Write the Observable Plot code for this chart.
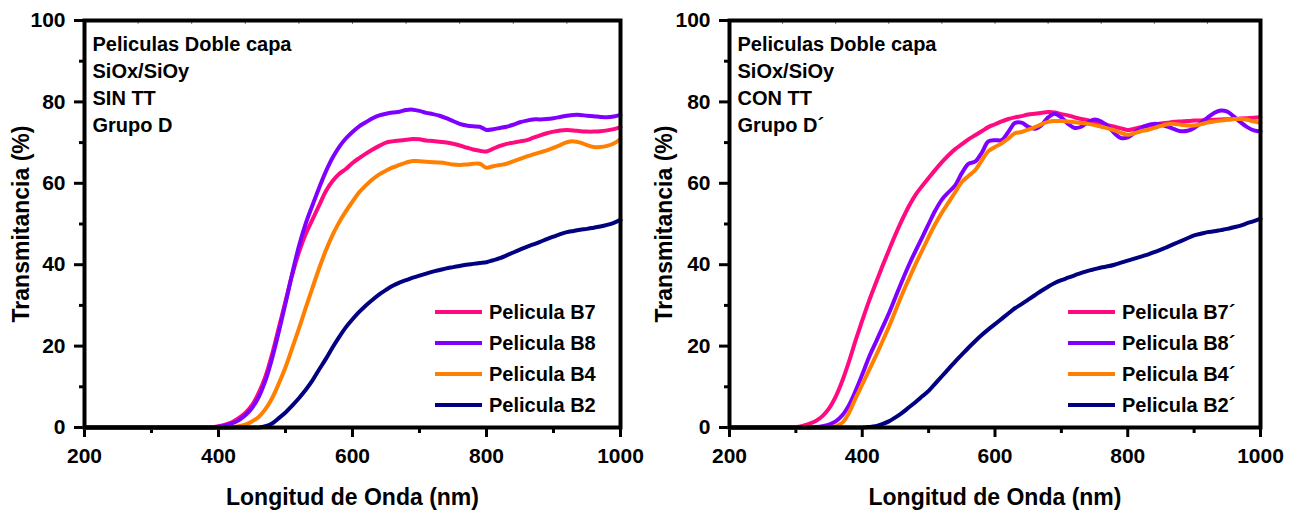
<!DOCTYPE html>
<html>
<head>
<meta charset="utf-8">
<script src="https://cdn.jsdelivr.net/npm/d3@7"></script>
<script src="https://cdn.jsdelivr.net/npm/@observablehq/plot@0.6"></script>
<style>
  html, body { margin: 0; padding: 0; background: #fff; }
  #charts { display: flex; width: 1296px; height: 514px; }
  #charts svg { display: block; }
</style>
</head>
<body>
<div id="charts"></div>
<script>
// Wavelength grid (nm), 200 – 1000 every 10 nm
const wavelengths = d3.range(200, 1001, 10);

// Axis ticks
const xMajor = [200, 400, 600, 800, 1000];
const xMinor = [300, 500, 700, 900];
const yMajor = [0, 20, 40, 60, 80, 100];
const yMinor = [10, 30, 50, 70, 90];
const topTicks = [280, 360, 440, 520, 600, 680, 760, 840, 920];

// Film colours (B7, B8, B4, B2)
const filmColors = ["#ff0a80", "#8000ff", "#ff8000", "#000080"];

// --- Group D (sin tratamiento térmico): transmittance (%) ---
const sinB7 = [0,0,0,0,0,0,0,0,0,0, 0,0,0,0,0,0,0,0,0,0,
  0.3,0.7,1.3,2.3,3.6,5.5,8.5,12.5,18,24.5,
  31,37.5,43,47.5,51,54.5,58,60.5,62.3,63.5,
  65,66.2,67.3,68.3,69.2,70,70.3,70.5,70.7,70.9,
  70.8,70.5,70.4,70.2,70,69.7,69.3,68.8,68.3,68,
  67.8,68.5,69.2,69.7,70,70.3,70.6,71.2,71.8,72.3,
  72.7,73,73.1,73,72.8,72.7,72.7,72.8,73,73.3,
  73.8];
const sinB8 = [0,0,0,0,0,0,0,0,0,0, 0,0,0,0,0,0,0,0,0,0,
  0.2,0.5,1.0,1.8,3.0,4.8,7.5,11.5,17,23.5,
  30.5,37.8,44.5,50,54.5,58.8,62.8,66.2,68.9,71,
  72.6,74,75,76,76.7,77.1,77.4,77.6,78,78.1,
  77.8,77.3,77,76.6,76,75.3,74.6,74.2,74,73.9,
  73.1,73.3,73.6,73.9,74.4,75,75.4,75.7,75.7,75.8,
  76,76.3,76.6,76.8,76.8,76.6,76.5,76.3,76.2,76.4,
  76.8];
const sinB4 = [0,0,0,0,0,0,0,0,0,0, 0,0,0,0,0,0,0,0,0,0,
  0,0,0.1,0.3,0.7,1.5,2.6,4.5,7.2,10.8,
  14.8,19.5,24.3,29.3,34.2,39,43.4,47.2,50.4,53.1,
  55.5,57.8,59.5,61,62.2,63.1,63.9,64.5,65.1,65.5,
  65.4,65.3,65.2,65.1,64.9,64.6,64.5,64.6,64.8,64.8,
  63.8,64.2,64.5,64.8,65.4,66,66.6,67.1,67.6,68.1,
  68.7,69.4,70.1,70.3,70,69.4,68.9,68.9,69.2,69.8,
  70.9];
const sinB2 = [0,0,0,0,0,0,0,0,0,0, 0,0,0,0,0,0,0,0,0,0,
  0,0,0,0,0,0,0,0.3,1.0,2.3,
  3.7,5.4,7.2,9.2,11.5,14.2,16.8,19.6,22.2,24.6,
  26.6,28.4,30,31.4,32.7,33.8,34.8,35.6,36.2,36.8,
  37.3,37.8,38.3,38.7,39.1,39.4,39.7,40,40.2,40.4,
  40.6,41.1,41.6,42.3,43,43.7,44.4,45,45.6,46.3,
  46.9,47.5,48,48.3,48.6,48.8,49.1,49.4,49.8,50.3,
  51];

// --- Group D´ (con tratamiento térmico): transmittance (%) ---
const conB7 = [0,0,0,0,0,0,0,0,0,0,
  0.1,0.4,0.9,1.6,2.8,4.7,7.6,11.5,16.2,21.4,
  26.3,31,35.3,39.5,43.5,47.4,51,54.3,57.1,59.3,
  61.3,63.3,65.2,66.9,68.4,69.6,70.8,71.8,72.8,73.8,
  74.5,75.2,75.8,76.2,76.5,76.9,77.1,77.3,77.5,77.4,
  77,76.7,76.2,75.8,75.5,75,74.7,74.3,73.9,73.5,
  73.1,73.4,73.8,74.1,74.4,74.7,74.9,75.1,75.2,75.3,
  75.4,75.45,75.5,75.6,75.7,75.75,75.8,75.9,76,76.1,
  76.2];
const conB8 = [0,0,0,0,0,0,0,0,0,0, 0,0,0,
  0.1,0.3,0.7,1.5,3,5.5,9,
  13,17.2,20.8,24.4,28,32,36,39.8,43.3,46.6,
  50,53.3,56,57.8,59.5,62.5,64.8,65.3,67.5,70.3,
  70.6,70.6,72.6,74.8,74.9,73.9,73.4,74.3,76.2,77.1,
  76.2,74.6,73.6,73.9,75,75.7,75.2,74,72.3,71.1,
  71.3,72.4,73.6,74.3,74.6,74.4,73.9,73.3,72.8,72.9,
  73.6,74.8,76.1,77.3,77.9,77.6,76.4,75,73.8,73,
  72.7];
const conB4 = [0,0,0,0,0,0,0,0,0,0, 0,0,0,0,0,
  0.1,0.3,1.2,3.6,7.2,
  10.6,14,17.4,21,24.7,28.7,32.7,36.4,40,43.4,
  46.8,50,52.8,55.3,57.8,60.3,61.8,63.2,65.6,67.9,
  68.9,69.8,71,72.3,72.6,73.2,73.8,74.5,75.1,75.3,
  75.3,75.2,75,74.8,74.6,74.3,73.9,73.5,73,72.4,
  71.9,72.3,72.8,73.1,73.6,74.1,74.5,74.6,74.4,74.2,
  74.2,74.5,74.9,75.2,75.4,75.6,75.8,75.8,75.6,75.2,
  74.9];
const conB2 = [0,0,0,0,0,0,0,0,0,0, 0,0,0,0,0,0,0,0,0,0, 0,
  0.1,0.3,0.8,1.5,2.5,3.6,4.9,6.2,7.6,
  9,10.8,12.6,14.4,16.2,17.9,19.6,21.2,22.7,24.1,
  25.4,26.7,28,29.3,30.3,31.4,32.5,33.6,34.6,35.5,
  36.2,36.8,37.4,38,38.5,38.9,39.3,39.6,40,40.5,
  41,41.5,42,42.5,43.1,43.7,44.4,45.1,45.8,46.5,
  47.2,47.6,48,48.2,48.5,48.8,49.2,49.6,50.2,50.7,
  51.3];

// Labels
const sinNames = ["Pelicula B7", "Pelicula B8", "Pelicula B4", "Pelicula B2"];
const conNames = ["Pelicula B7´", "Pelicula B8´", "Pelicula B4´", "Pelicula B2´"];
const sinNotes = ["Peliculas Doble capa", "SiOx/SiOy", "SIN TT", "Grupo D"];
const conNotes = ["Peliculas Doble capa", "SiOx/SiOy", "CON TT", "Grupo D´"];
const xTitle = "Longitud de Onda (nm)";
const yTitle = "Transmitancia (%)";

const FONT = "'Liberation Sans', Arial, Helvetica, sans-serif";

function toRows(values) {
  return wavelengths.map((w, i) => ({nm: w, T: values[i]}));
}

// Legend drawn inside the frame, anchored to its bottom-right corner
function insideLegend(names, colors, swatchFrom, swatchTo, textAt) {
  return (index, scales, values, dims) => {
    const g = d3.create("svg:g")
      .attr("font-family", FONT).attr("font-weight", "bold")
      .attr("font-size", 20).attr("text-anchor", "start");
    const right = dims.width - dims.marginRight;
    const bottom = dims.height - dims.marginBottom;
    names.forEach((name, i) => {
      const y = bottom - 115 + i * 31;
      g.append("line")
        .attr("x1", right - swatchFrom).attr("x2", right - swatchTo)
        .attr("y1", y).attr("y2", y)
        .attr("stroke", colors[i]).attr("stroke-width", 4);
      g.append("text")
        .attr("x", right - textAt).attr("y", y).attr("dy", "0.36em")
        .attr("fill", "black").text(name);
    });
    return g.node();
  };
}

function panel({series, names, notes, marginLeft, marginRight, yTitleDx, legendGeom}) {
  return Plot.plot({
    width: 648,
    height: 514,
    marginTop: 20,
    marginBottom: 87,
    marginLeft,
    marginRight,
    x: {domain: [200, 1000]},
    y: {domain: [0, 100]},
    style: {fontFamily: FONT, fontSize: "21px", fontWeight: "bold", color: "black", background: "white", overflow: "visible"},
    marks: [
      Plot.axisX({ticks: xMajor, tickSize: 10, tickPadding: 11, strokeWidth: 3, label: null, fontSize: 21, tickFormat: d => String(d)}),
      Plot.axisX({ticks: xMinor, tickSize: 6, strokeWidth: 3, tickFormat: () => "", label: null}),
      Plot.axisY({ticks: yMajor, tickSize: 10, tickPadding: 9, strokeWidth: 3, label: null, fontSize: 21, tickFormat: d => String(d)}),
      Plot.axisY({ticks: yMinor, tickSize: 5, strokeWidth: 3, tickFormat: () => "", label: null}),
      Plot.tickX(topTicks, {x: d => d, insetBottom: 403, stroke: "#777", strokeWidth: 1}),
      ...series.map((vals, i) =>
        Plot.line(toRows(vals), {x: "nm", y: "T", stroke: filmColors[i], strokeWidth: 4, curve: "catmull-rom"})
      ),
      Plot.frame({stroke: "black", strokeWidth: 4}),
      Plot.text([notes.join("\n")], {
        text: d => d, frameAnchor: "top-left", textAnchor: "start", lineAnchor: "top",
        dx: 8, dy: 11, fontSize: 20, lineHeight: 27 / 20
      }),
      insideLegend(names, filmColors, ...legendGeom),
      Plot.text([xTitle], {text: d => d, frameAnchor: "bottom", textAnchor: "middle", lineAnchor: "middle", dy: 70, fontSize: 23}),
      Plot.text([yTitle], {text: d => d, frameAnchor: "left", textAnchor: "middle", lineAnchor: "middle", dx: yTitleDx, rotate: -90, fontSize: 23})
    ]
  });
}

const root = document.getElementById("charts");
root.append(panel({
  series: [sinB7, sinB8, sinB4, sinB2],
  names: sinNames, notes: sinNotes,
  marginLeft: 84, marginRight: 28, yTitleDx: -63,
  legendGeom: [185, 138, 131]
}));
root.append(panel({
  series: [conB7, conB8, conB4, conB2],
  names: conNames, notes: conNotes,
  marginLeft: 81, marginRight: 36, yTitleDx: -65,
  legendGeom: [192, 145, 138]
}));
</script>
</body>
</html>
